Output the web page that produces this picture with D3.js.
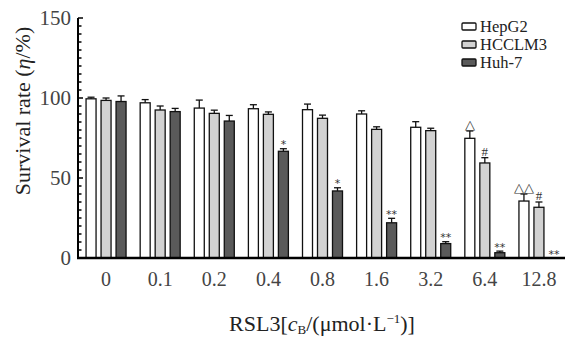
<!DOCTYPE html>
<html><head><meta charset="utf-8">
<script src="https://cdn.jsdelivr.net/npm/d3@7"></script>
<style>body{margin:0;background:#fff}svg{display:block}</style>
</head><body>
<script>
const categories = ["0","0.1","0.2","0.4","0.8","1.6","3.2","6.4","12.8"];
const seriesNames = ["HepG2","HCCLM3","Huh-7"];
const hepg2 = [99.5, 97, 93.7, 93.3, 92.7, 90, 81.7, 74.8, 35.6];
const hepg2Err = [1, 2, 5, 2.5, 3.5, 2, 3.5, 4.6, 4.4];
const hcclm3 = [98.5, 92.5, 90.4, 89.8, 87.3, 80.4, 79.6, 59.4, 31.7];
const hcclm3Err = [1.5, 2.5, 2, 1.5, 2, 1.6, 1.5, 3.3, 3.3];
const huh7 = [97.8, 91.5, 85.6, 66.7, 41.9, 22, 9, 3.3, 0];
const huh7Err = [3.5, 2, 3.5, 1.6, 2, 2.8, 1.2, 1, 0];
const hepg2Marks = ["","","","","","","","\u25B3","\u25B3\u25B3"];
const hcclm3Marks = ["","","","","","","","#","#"];
const huh7Marks = ["","","","*","*","**","**","**","**"];
const yTicks = [0, 50, 100, 150];

const W = 567, H = 338;
const colors = ["#ffffff", "#d2d2d2", "#5a5a5a"];
const svg = d3.select("body").append("svg").attr("width", W).attr("height", H);

const y = d3.scaleLinear().domain([0, 150]).range([258, 18]);
const x = d3.scaleBand().domain(categories).range([79, 566]);
const xs = d3.scaleBand().domain(seriesNames).range([-22.5, 22.5]).paddingInner(1/3).paddingOuter(1/6);

const series = [
  {name: "HepG2", v: hepg2, e: hepg2Err, m: hepg2Marks, c: colors[0]},
  {name: "HCCLM3", v: hcclm3, e: hcclm3Err, m: hcclm3Marks, c: colors[1]},
  {name: "Huh-7", v: huh7, e: huh7Err, m: huh7Marks, c: colors[2]}
];

const font = "'Liberation Serif','Times New Roman',serif";

// bars
series.forEach(s => {
  const g = svg.append("g");
  categories.forEach((cat, i) => {
    const cx = x(cat) + x.bandwidth() / 2;
    const bx = cx + xs(s.name);
    const bw = xs.bandwidth();
    if (s.v[i] > 0) {
      g.append("rect").attr("x", bx).attr("y", y(s.v[i]))
        .attr("width", bw).attr("height", y(0) - y(s.v[i]))
        .attr("fill", s.c).attr("stroke", "#111").attr("stroke-width", 1.3);
    }
    if (s.e[i] > 0) {
      const mid = bx + bw / 2;
      g.append("line").attr("x1", mid).attr("x2", mid)
        .attr("y1", y(s.v[i])).attr("y2", y(s.v[i] + s.e[i]))
        .attr("stroke", "#111").attr("stroke-width", 1.3);
      g.append("line").attr("x1", mid - 3.5).attr("x2", mid + 3.5)
        .attr("y1", y(s.v[i] + s.e[i])).attr("y2", y(s.v[i] + s.e[i]))
        .attr("stroke", "#111").attr("stroke-width", 1.3);
    }
    if (s.m[i]) {
      const top = y(s.v[i] + s.e[i]);
      const isStar = s.m[i].includes("*");
      g.append("text").attr("x", bx + bw / 2)
        .attr("y", isStar ? top - 0.5 : top - 2)
        .attr("text-anchor", "middle")
        .attr("font-family", isStar ? "DejaVu Sans, sans-serif" : font)
        .attr("font-size", isStar ? 11 : 13)
        .attr("fill", "#333")
        .text(s.m[i]);
    }
  });
});

// y axis
const yAxisG = svg.append("g");
yAxisG.append("line").attr("x1", 78).attr("x2", 78).attr("y1", y(150)).attr("y2", y(0))
  .attr("stroke", "#000").attr("stroke-width", 2);
d3.range(0, 151, 5).forEach(t => {
  const major = yTicks.includes(t);
  yAxisG.append("line").attr("x1", 78).attr("x2", 78 + (major ? 5 : 3.5))
    .attr("y1", y(t)).attr("y2", y(t)).attr("stroke", "#000").attr("stroke-width", 1.5);
});
yTicks.forEach(t => {
  yAxisG.append("text").attr("x", 71).attr("y", y(t)).attr("dy", "0.35em")
    .attr("text-anchor", "end").attr("font-family", font).attr("font-size", 21)
    .attr("fill", "#444").text(t);
});

// x axis
svg.append("line").attr("x1", 77).attr("x2", 565).attr("y1", y(0)).attr("y2", y(0))
  .attr("stroke", "#000").attr("stroke-width", 2.5);
categories.forEach(cat => {
  svg.append("text").attr("x", x(cat) + x.bandwidth() / 2).attr("y", 279).attr("dy", "0.35em")
    .attr("text-anchor", "middle").attr("font-family", font).attr("font-size", 20)
    .attr("fill", "#444").text(cat);
});

// axis titles
svg.append("text").attr("transform", "translate(22,111) rotate(-90)")
  .attr("text-anchor", "middle").attr("dy", "0.35em")
  .attr("font-family", font).attr("font-size", 22).attr("fill", "#222")
  .html("Survival rate (<tspan font-style='italic'>η</tspan>/%)");

const xt = svg.append("text").attr("x", 322).attr("y", 323).attr("dy", "0.35em")
  .attr("text-anchor", "middle").attr("font-family", font).attr("font-size", 22).attr("fill", "#222");
xt.append("tspan").text("RSL3[");
xt.append("tspan").attr("font-style", "italic").text("c");
xt.append("tspan").attr("font-size", 13).attr("dy", 3).text("B");
xt.append("tspan").attr("dy", -3).text("/(μmol·L");
xt.append("tspan").attr("font-size", 13).attr("dy", -8).text("−1");
xt.append("tspan").attr("dy", 8).text(")]");

// legend
const lg = svg.append("g");
series.forEach((s, i) => {
  const cy = 26.5 + i * 18;
  lg.append("rect").attr("x", 462).attr("y", cy - 3.5).attr("width", 14).attr("height", 7)
    .attr("fill", s.c).attr("stroke", "#111").attr("stroke-width", 1.3).attr("rx", 1);
  lg.append("text").attr("x", 480).attr("y", cy).attr("dy", "0.35em")
    .attr("font-family", font).attr("font-size", 16.5).attr("fill", "#222")
    .attr("textLength", s.name.length > 5 ? null : null).text(s.name);
});
</script>
</body></html>
